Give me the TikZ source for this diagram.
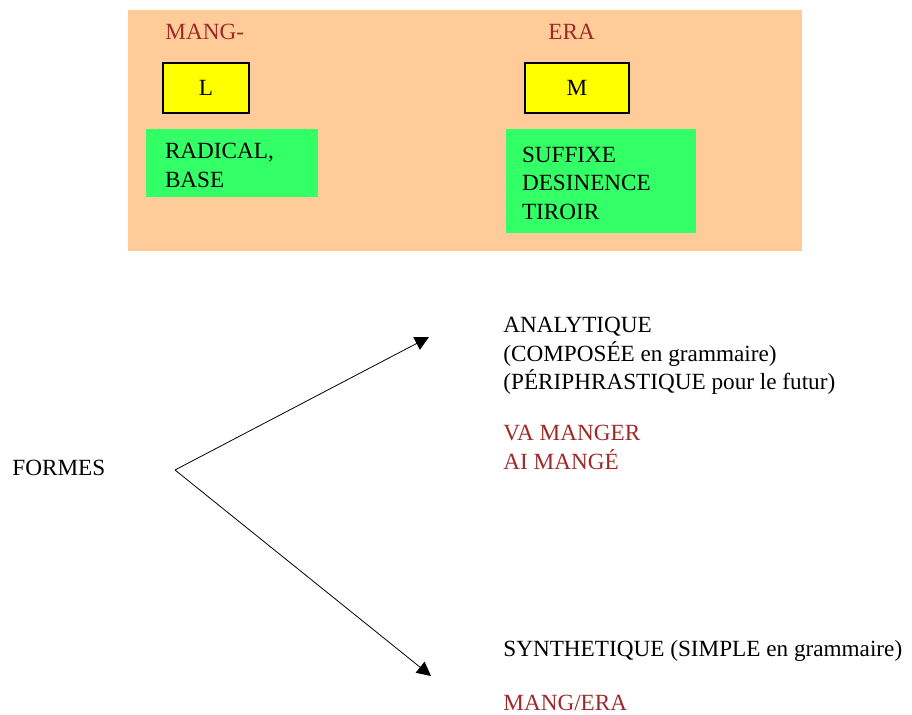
\documentclass[tikz,border=0pt]{standalone}
\usepackage{fontspec}
\setmainfont{Liberation Serif}
\usetikzlibrary{arrows.meta}
\definecolor{peach}{RGB}{255,204,153}
\definecolor{leaf}{RGB}{51,255,102}
\definecolor{lemon}{RGB}{255,255,0}
\definecolor{brick}{RGB}{160,40,40}
\tikzset{
  txt/.style={inner sep=0pt, align=left, font=\fontsize{11.6}{14.2}\selectfont},
  redtxt/.style={txt, text=brick},
  letterbox/.style={draw=black, line width=1pt, fill=lemon, minimum width=43pt, minimum height=25pt, font=\fontsize{11.6}{14.2}\selectfont},
  rolebox/.style={fill=leaf, align=left, inner ysep=0pt, font=\fontsize{11.6}{14.2}\selectfont},
  branch/.style={-{Triangle[length=7pt,width=7pt]}, line width=0.4pt}
}
\begin{document}
\begin{tikzpicture}[x=0.5pt,y=-0.5pt]
		\useasboundingbox (0,0) rectangle (912,715);

		% the word cut in two
		\fill[peach] (128,10) rectangle (802,251);
		\node[redtxt, anchor=west] (mang) at (165,32) {MANG-};
		\node[redtxt, anchor=west] (era) at (548,32) {ERA};
		\node[letterbox] (lex) at (206,88) {L};
		\node[letterbox, minimum width=52pt] (morph) at (577,88) {M};
		\node[rolebox, inner xsep=9.5pt, text width=67pt, minimum height=34pt] (radical) at (232,163) {\strut RADICAL,\\BASE};
		\node[rolebox, inner xsep=8pt, text width=79pt, minimum height=52pt] (suffixe) at (601,181) {\strut SUFFIXE\\DESINENCE\\TIROIR};

		% the two kinds of forms
		\node[txt, anchor=west] (formes) at (12,468) {FORMES};
		\coordinate (fork) at (175,470);
		\coordinate (anatip) at (429,337);
		\coordinate (syntip) at (431,676);
		\draw[branch] (fork) -- (anatip);
		\draw[branch] (fork) -- (syntip);

		\node[txt, anchor=north west] (ana) at (503,317) {ANALYTIQUE\\(COMPOSÉE en grammaire)\\(PÉRIPHRASTIQUE pour le futur)};
		\node[redtxt, anchor=north west] (va) at (503,425) {VA MANGER\\AI MANGÉ};
		\node[txt, anchor=north west] (syn) at (503,640) {SYNTHETIQUE (SIMPLE en grammaire)};
		\node[redtxt, anchor=north west] (simple) at (503,695) {MANG/ERA};
\end{tikzpicture}
\end{document}
